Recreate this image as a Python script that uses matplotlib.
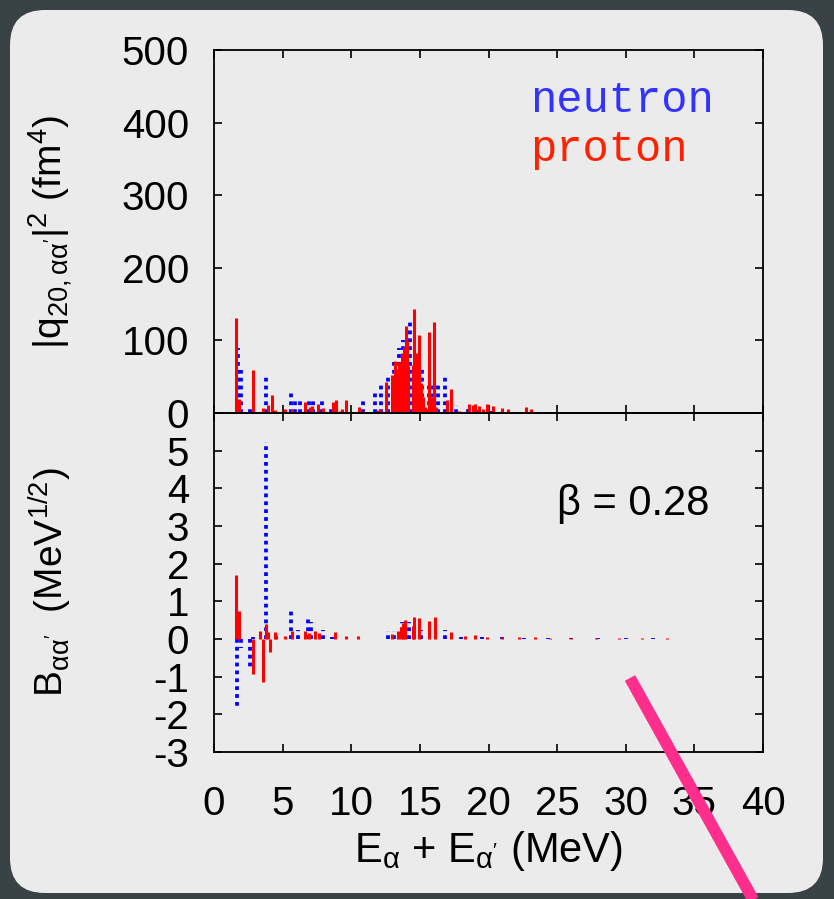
import matplotlib
matplotlib.use("Agg")
import matplotlib.pyplot as plt
from matplotlib.patches import FancyBboxPatch
from matplotlib.lines import Line2D

# ---- data ----
# proton |q20|^2 (fm^4)
p_E_q = [1.62, 1.84, 2.86, 3.56, 3.9, 4.24, 4.43, 5.2, 5.7, 6.6, 6.98, 7.15, 7.58,
         7.94, 8.67, 8.9, 9.16, 9.35, 9.64, 10.56, 10.85, 11.94, 12.1, 12.55, 12.99,
         13.18, 13.3, 13.4, 13.5, 13.57, 13.69, 13.83, 13.97, 14.05, 14.15, 14.48,
         14.6, 14.78, 14.92, 15.1, 15.2, 15.36, 15.65, 15.86, 16.06, 16.18, 16.98,
         17.27, 17.88, 18.55, 18.9, 19.04, 19.28, 19.57, 19.86, 20.3, 21.0, 21.4,
         22.7, 23.1, 23.6, 24.2, 25.5, 27.0, 28.4, 30.1, 31.5, 33.2, 35.0, 36.6]
p_q = [131, 19, 59, 7, 11, 25, 4, 5, 5, 15, 8, 10, 13,
       7, 15, 18, 3, 5, 18, 8, 3, 4, 5, 43, 52,
       71, 60, 54, 70, 66, 82, 91, 120, 101, 65, 66,
       143, 83, 107, 41, 22, 8, 112, 22, 126, 8, 18,
       33, 3, 12, 11, 12, 10, 5, 13, 10, 7, 6,
       8, 6, 2, 1, 0.8, 0.6, 0.5, 0.6, 0.4, 0.5, 0.3, 0.3]

# neutron |q20|^2 (fm^4)
n_E_q = [1.72, 2.0, 2.6, 3.8, 5.64, 5.9, 6.3, 6.9, 7.2, 7.9, 8.55, 10.85, 11.7,
         12.2, 12.67, 13.15, 13.45, 13.75, 14.05, 14.3, 15.0, 15.17, 15.7, 15.9,
         16.33, 16.8, 17.64, 18.5, 18.6, 19.3, 20.2, 21.1, 22.4, 23.5, 24.6,
         26.0, 27.7, 29.3, 31.0, 32.6, 34.4, 36.0, 37.3]
n_q = [89, 59, 10, 50, 29, 21, 21, 21, 21, 21, 8, 19, 29,
       40, 51, 70, 89, 100, 118, 130, 62, 60, 38, 41,
       41, 50, 11, 8, 11, 4, 3, 2, 2, 1.5, 1,
       0.8, 0.6, 0.5, 0.5, 0.4, 0.4, 0.3, 0.3]

# proton B (MeV^1/2)
p_E_b = [1.62, 1.84, 2.86, 3.34, 3.58, 3.78, 3.9, 4.07, 4.43, 4.55, 5.2, 5.7, 6.6,
         6.9, 7.34, 7.65, 8.8, 9.64, 10.5, 13.0, 13.4, 13.6, 13.8, 13.95, 14.5,
         14.6, 14.92, 15.65, 16.1, 17.27, 18.3, 19.0, 19.9, 21.0, 22.2, 23.4, 24.5,
         26.0, 27.8, 29.5, 31.2, 33.0, 34.8, 36.5]
p_b = [1.7, 0.75, -0.93, 0.2, -1.15, 0.4, 0.18, -0.35, 0.18, 0.1, 0.08, 0.2, 0.2,
       0.15, 0.2, 0.15, 0.18, 0.08, 0.08, 0.13, 0.2, 0.32, 0.42, 0.5, 0.35,
       0.58, 0.55, 0.48, 0.58, 0.18, 0.08, 0.1, 0.06, 0.05, 0.04, 0.04, 0.03,
       0.03, 0.02, 0.02, 0.02, 0.02, 0.01, 0.01]

# neutron B (MeV^1/2)
n_E_b = [1.7, 2.0, 2.6, 2.86, 3.8, 5.64, 6.1, 6.85, 7.1, 7.95, 8.6, 12.67, 13.15,
         13.7, 14.24, 15.1, 16.8, 18.0, 19.5, 21.0, 22.6, 24.3, 26.0, 28.0,
         30.0, 32.0, 34.0, 36.0, 37.4]
n_b = [-1.78, -0.24, -0.82, 0.05, 5.24, 0.82, 0.24, 0.58, 0.45, 0.24, 0.05, 0.22, 0.22,
       0.45, 0.45, 0.24, 0.24, 0.06, 0.05, 0.04, 0.03, 0.03, 0.02, 0.02,
       0.02, 0.02, 0.01, 0.01, 0.01]

x_ticks = [0, 5, 10, 15, 20, 25, 30, 35, 40]
q_ticks = [0, 100, 200, 300, 400, 500]
b_ticks = [-3, -2, -1, 0, 1, 2, 3, 4, 5]

# ---- styling ----
plt.rcParams['font.family'] = ['Liberation Sans', 'DejaVu Sans']
plt.rcParams['mathtext.fontset'] = 'custom'
plt.rcParams['mathtext.rm'] = 'Liberation Sans'
plt.rcParams['mathtext.it'] = 'Liberation Sans'
plt.rcParams['mathtext.default'] = 'regular'
plt.rcParams['axes.unicode_minus'] = False

W, H = 834, 899
fig = plt.figure(figsize=(W / 100, H / 100), dpi=100, facecolor='#394244')

# light rounded panel behind everything
panel = FancyBboxPatch((0.10, 0.06), 8.13, 8.83,
                       boxstyle='round,pad=0,rounding_size=0.35',
                       transform=fig.dpi_scale_trans, facecolor='#ebebeb',
                       edgecolor='none', zorder=-10)
fig.patches.append(panel)

ax1 = fig.add_axes([214 / W, 1 - 413 / H, (763 - 214) / W, (413 - 50) / H])
ax2 = fig.add_axes([214 / W, 1 - 752 / H, (763 - 214) / W, (752 - 413) / H], sharex=ax1)

blue = '#0000ff'
red = '#ff0000'
dots = (0, (1, 1.1))

ax1.vlines(n_E_q, 0, n_q, colors=blue, linewidth=2.7, linestyles=dots, capstyle='butt')
ax1.vlines(p_E_q, 0, p_q, colors=red, linewidth=2.2)
ax2.vlines(n_E_b, 0, n_b, colors=blue, linewidth=2.7, linestyles=dots, capstyle='butt')
ax2.vlines(p_E_b, 0, p_b, colors=red, linewidth=2.2)

for ax in (ax1, ax2):
    ax.set_facecolor('none')
    for s in ax.spines.values():
        s.set_linewidth(1.3)
    ax.tick_params(direction='in', length=6, width=1.2, top=True, right=True,
                   labelsize=29)
    ax.tick_params(axis='y', pad=18)
    ax.tick_params(axis='x', pad=24)

ax1.set_xlim(0, 40)
ax1.set_ylim(0, 500)
ax1.set_yticks(q_ticks)
ax1.set_xticks(x_ticks)
ax1.tick_params(labelbottom=False)
ax2.set_ylim(-3, 6)
ax2.set_yticks(b_ticks)

ax1.set_ylabel(r'$|q_{20,\alpha\alpha^{\prime}}|^2$ (fm$^4$)', fontsize=28, labelpad=12)
ax2.set_ylabel(r'B$_{\alpha\alpha^{\prime}}$  (MeV$^{1/2}$)', fontsize=28, labelpad=12)
ax2.set_xlabel(r'E$_\alpha$ + E$_{\alpha^{\prime}}$ (MeV)', fontsize=30, labelpad=4)
ax1.yaxis.set_label_coords(-0.255, 0.5)
ax2.yaxis.set_label_coords(-0.255, 0.5)

mono = ['Liberation Mono', 'DejaVu Sans Mono']
ax1.text(0.575, 0.83, 'neutron', color='#3333ff', fontsize=31.5, family=mono,
         transform=ax1.transAxes)
ax1.text(0.575, 0.695, 'proton', color='#ff2200', fontsize=31.5, family=mono,
         transform=ax1.transAxes)
ax2.text(0.625, 0.70, 'β = 0.28', fontsize=30, transform=ax2.transAxes)

# pink pointer stroke across the lower right
fig.lines.append(Line2D([630 / W, 760 / W], [1 - 678 / H, 1 - 912 / H],
                        transform=fig.transFigure, color='#ff2d8c',
                        linewidth=8.5, solid_capstyle='butt', zorder=20))

plt.savefig('out.png', dpi=100, facecolor=fig.get_facecolor())
